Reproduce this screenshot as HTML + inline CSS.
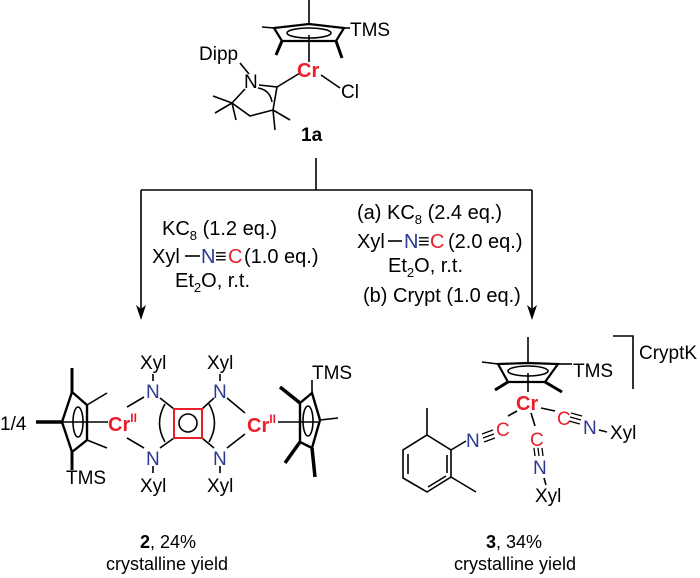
<!DOCTYPE html>
<html><head><meta charset="utf-8"><style>
body{margin:0;background:#fff}
svg{display:block}
text{font-family:"Liberation Sans",Arial,sans-serif;fill:#000}
.r{fill:#e8202a}.b{fill:#2b3990}
</style></head><body>
<svg width="700" height="578" viewBox="0 0 700 578" xmlns="http://www.w3.org/2000/svg">
<g stroke="#000" stroke-width="1.6" fill="none">
<line x1="309" y1="0" x2="309" y2="24"/>
<path d="M309,24 L344,28 L336,41 L282,41 L274,28 Z" stroke-width="2.2"/>
<ellipse cx="309" cy="33" rx="22" ry="5"/>
<line x1="344" y1="28" x2="350" y2="28"/>
<line x1="274" y1="28" x2="262" y2="27"/>
<line x1="282" y1="41" x2="276" y2="55" stroke-width="3"/>
<line x1="336" y1="41" x2="342" y2="58" stroke-width="3"/>
<line x1="309" y1="35" x2="309" y2="62"/>
<line x1="300" y1="73" x2="277" y2="87"/>
<line x1="321" y1="75" x2="340" y2="88"/>
<line x1="240" y1="63" x2="249" y2="74"/>
<path d="M245,89 L232,103 L250,116 L273,110 L277,87 L259,85"/>
<path d="M258,88 Q270,90 272,102"/>
<line x1="232" y1="103" x2="213" y2="96"/><line x1="232" y1="103" x2="215" y2="113"/><line x1="232" y1="103" x2="236" y2="120"/>
<line x1="273" y1="110" x2="275" y2="130"/><line x1="273" y1="110" x2="290" y2="120"/>
<line x1="316" y1="158" x2="316" y2="190"/>
<line x1="141" y1="190" x2="532" y2="190"/>
<line x1="141" y1="190" x2="141" y2="312"/>
<line x1="532" y1="190" x2="532" y2="312"/>
<line x1="185" y1="256" x2="200" y2="256"/>
<line x1="388" y1="241" x2="402" y2="241"/>
</g>
<polygon points="136,305 141,320 146,305 141,309" fill="#000"/>
<polygon points="527,305 532,320 537,305 532,309" fill="#000"/>
<g font-size="19">
<text x="350" y="36">TMS</text>
<text x="199" y="60">Dipp</text>
<text x="244" y="88">N</text>
<text x="297" y="77" class="r" font-weight="bold" font-size="20">Cr</text>
<text x="341" y="98">Cl</text>
<text x="301" y="141" font-weight="bold" font-size="19">1a</text>
</g>
<g font-size="20">
<text x="162" y="235">KC<tspan font-size="13" dy="5">8</tspan><tspan dy="-5"> (1.2 eq.)</tspan></text>
<text x="152" y="263">Xyl</text><text x="201" y="263" class="b">N</text><text x="215" y="263">≡</text><text x="228" y="263" class="r">C</text><text x="244" y="263">(1.0 eq.)</text>
<text x="175" y="287">Et<tspan font-size="13" dy="5">2</tspan><tspan dy="-5">O, r.t.</tspan></text>
<text x="357" y="219">(a) KC<tspan font-size="13" dy="5">8</tspan><tspan dy="-5"> (2.4 eq.)</tspan></text>
<text x="357" y="248">Xyl</text><text x="404" y="248" class="b">N</text><text x="418" y="248">≡</text><text x="430" y="248" class="r">C</text><text x="448" y="248"> (2.0 eq.)</text>
<text x="388" y="272">Et<tspan font-size="13" dy="5">2</tspan><tspan dy="-5">O, r.t.</tspan></text>
<text x="363" y="302">(b) Crypt (1.0 eq.)</text>
</g>
<g stroke="#000" stroke-width="1.6" fill="none">
<path d="M72,392 L87,405 L87,440 L72,452 L62,422 Z" stroke-width="2.4"/>
<ellipse cx="78" cy="422" rx="5" ry="15"/>
<line x1="72" y1="368" x2="72" y2="392" stroke-width="3"/>
<line x1="36" y1="422" x2="62" y2="422" stroke-width="3.5"/>
<line x1="72" y1="452" x2="72" y2="470" stroke-width="3"/>
<line x1="87" y1="405" x2="107" y2="393"/><line x1="87" y1="440" x2="107" y2="448"/>
<line x1="62" y1="422" x2="108" y2="422"/>
<line x1="127" y1="407" x2="144" y2="397"/><line x1="127" y1="438" x2="144" y2="448"/>
<line x1="153" y1="374" x2="153" y2="381"/><line x1="153" y1="466" x2="153" y2="473"/>
<line x1="220" y1="374" x2="220" y2="381"/><line x1="220" y1="466" x2="220" y2="473"/>
<line x1="160" y1="398" x2="174" y2="409"/><line x1="160" y1="448" x2="174" y2="438"/>
<path d="M165,404 Q154,423 165,442"/>
<line x1="214" y1="398" x2="202" y2="409"/><line x1="214" y1="448" x2="202" y2="438"/>
<path d="M209,404 Q220,423 209,442"/>
<circle cx="188" cy="423" r="9"/>
<line x1="227" y1="398" x2="245" y2="413"/><line x1="227" y1="448" x2="245" y2="434"/>
<line x1="278" y1="422" x2="318" y2="422"/>
<path d="M300,403 L312,393 L320,420 L312,448 L300,442 Z" stroke-width="2.4"/>
<ellipse cx="308" cy="421" rx="5" ry="15"/>
<line x1="312" y1="393" x2="312" y2="380"/>
<line x1="300" y1="403" x2="280" y2="387" stroke-width="3.5"/>
<line x1="320" y1="420" x2="338" y2="418"/>
<line x1="300" y1="442" x2="285" y2="463" stroke-width="3.5"/>
<line x1="312" y1="448" x2="315" y2="477" stroke-width="3.5"/>
</g>
<rect x="174" y="409" width="28" height="29" fill="none" stroke="#e8202a" stroke-width="2"/>
<g font-size="19">
<text x="0" y="430">1/4</text>
<text x="108" y="431" class="r" font-weight="bold" font-size="20">Cr<tspan font-size="12" dy="-9">II</tspan></text>
<text x="247" y="432" class="r" font-weight="bold" font-size="20">Cr<tspan font-size="12" dy="-9">II</tspan></text>
<text x="146" y="398" class="b">N</text><text x="146" y="465" class="b">N</text>
<text x="213" y="398" class="b">N</text><text x="213" y="465" class="b">N</text>
<text x="140" y="369">Xyl</text><text x="207" y="369">Xyl</text>
<text x="140" y="492">Xyl</text><text x="207" y="492">Xyl</text>
<text x="66" y="484">TMS</text>
<text x="312" y="379">TMS</text>
</g>
<g font-size="18" text-anchor="middle">
<text x="168" y="548"><tspan font-weight="bold">2</tspan>, 24%</text>
<text x="167" y="570">crystalline yield</text>
<text x="514" y="548"><tspan font-weight="bold">3</tspan>, 34%</text>
<text x="515" y="570">crystalline yield</text>
</g>
<g stroke="#000" stroke-width="1.6" fill="none">
<line x1="528" y1="337" x2="528" y2="363"/>
<path d="M528,363 L558,364 L545,382 L508,382 L498,364 Z" stroke-width="2.2"/>
<ellipse cx="528" cy="371" rx="20" ry="5"/>
<line x1="558" y1="364" x2="572" y2="364"/>
<line x1="498" y1="364" x2="482" y2="362"/>
<line x1="508" y1="382" x2="495" y2="390" stroke-width="3"/>
<line x1="545" y1="382" x2="562" y2="392" stroke-width="3"/>
<line x1="528" y1="373" x2="528" y2="392"/>
<polyline points="613,336 633,336 633,389"/>
<line x1="517" y1="411" x2="508" y2="416"/>
<line x1="541" y1="408" x2="555" y2="411"/>
<line x1="531" y1="413" x2="535" y2="426"/>
<line x1="599" y1="430" x2="607" y2="432"/>
<line x1="544" y1="478" x2="546" y2="485"/>
<path d="M427,435 L451,450 L451,477 L427,492 L403,478 L403,450 Z"/>
<line x1="447" y1="455" x2="447" y2="473"/><line x1="408" y1="454" x2="408" y2="474"/><line x1="428" y1="487" x2="446" y2="476"/>
<line x1="427" y1="435" x2="427" y2="408"/>
<line x1="451" y1="477" x2="476" y2="492"/>
<line x1="451" y1="450" x2="466" y2="441"/>
<g stroke-width="1.3">
<line x1="482" y1="434" x2="493" y2="430"/><line x1="483" y1="438" x2="494" y2="434"/><line x1="484" y1="442" x2="495" y2="438"/>
<line x1="571" y1="413" x2="582" y2="416"/><line x1="570" y1="417" x2="581" y2="420"/><line x1="569" y1="421" x2="580" y2="424"/>
<line x1="534" y1="448" x2="535" y2="456"/><line x1="538" y1="448" x2="539" y2="456"/><line x1="542" y1="448" x2="543" y2="456"/>
</g>
</g>
<g font-size="19">
<text x="573" y="377">TMS</text>
<text x="639" y="359">CryptK</text>
<text x="516" y="410" class="r" font-weight="bold" font-size="20">Cr</text>
<text x="466" y="447" class="b">N</text><text x="496" y="436" class="r">C</text>
<text x="557" y="425" class="r">C</text><text x="583" y="434" class="b">N</text>
<text x="610" y="439">Xyl</text>
<text x="530" y="446" class="r">C</text>
<text x="533" y="474" class="b">N</text>
<text x="535" y="502">Xyl</text>
</g>
</svg>
</body></html>
